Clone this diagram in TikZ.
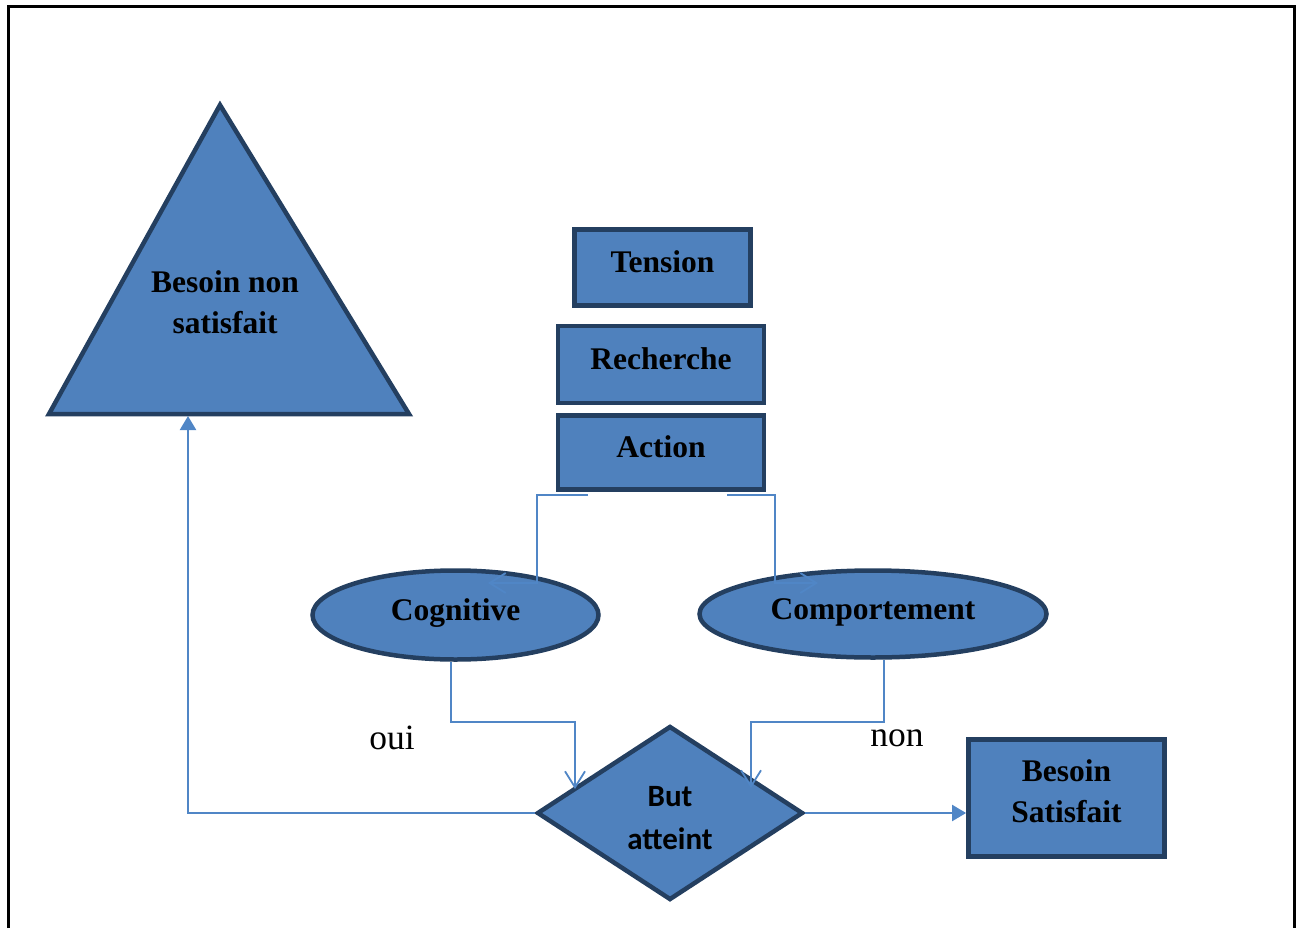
\documentclass[tikz,border=0pt]{standalone}
\usepackage{fontspec}
\setmainfont{Liberation Serif}
\newfontfamily\calib{Carlito}
\usetikzlibrary{shapes.geometric,arrows.meta}
\definecolor{fillb}{HTML}{4F81BD}
\definecolor{edgeb}{HTML}{243F60}
\definecolor{lineb}{HTML}{5086C6}
\begin{document}
\begin{tikzpicture}[x=1pt,y=-1pt,
  shp/.style={draw=edgeb,fill=fillb,line width=4.8pt,inner sep=0pt,line join=miter},
  bold/.style={font=\bfseries\fontsize{31.5}{41}\selectfont,align=center},
  boxs/.style={shp,rectangle,bold,text height=20pt,text depth=10pt},
  ell/.style={shp,ellipse,line width=4.5pt,bold,text height=20pt,text depth=10pt},
  conn/.style={draw=lineb,line width=1.8pt},
  openarr/.style={-{Straight Barb[length=16pt,width=20pt]}},
  fullarr/.style={line width=2.2pt,-{Triangle[length=14pt,width=16pt]}},
  lbl/.style={font=\fontsize{35.5}{40}\selectfont}
]
\useasboundingbox (0,0) rectangle (1297,928);
\draw[line width=3pt] (8.5,928) -- (8.5,6.5) -- (1294.5,6.5) -- (1294.5,928);

% shapes
\coordinate (tA) at (220,105);
\coordinate (tR) at (409,414);
\coordinate (tL) at (49,414);
\filldraw[shp,line width=4.5pt] (tA) -- (tR) -- (tL) -- cycle;
\node[bold] (besoinnon) at (225,302) {Besoin non\\satisfait};

\node[boxs,minimum width=176pt,minimum height=76pt] (tension) at (662.5,267.5) {Tension};
\node[boxs,minimum width=206pt,minimum height=77pt] (recherche) at (661,364.5) {Recherche};
\node[boxs,minimum width=206pt,minimum height=74pt] (action) at (661,452.5) {Action};

\node[ell,minimum width=286pt,minimum height=89pt] (cog) at (455.5,615) {Cognitive};
\node[ell,minimum width=347pt,minimum height=87pt] (comp) at (873,614) {Comportement};

\node[shp,diamond,line width=4.5pt,minimum width=266pt,minimum height=174pt] (but) at (670,813) {};
\node[font=\calib\bfseries\fontsize{31}{43}\selectfont,align=center] (buttxt) at (670,818) {But\\atteint};

\node[shp,rectangle,minimum width=196pt,minimum height=117pt] (bsat) at (1066.5,798) {};
\node[bold] (bsattxt) at (1066.5,791.5) {Besoin\\Satisfait};

\node[lbl] (oui) at (392,738) {oui};
\node[lbl] (non) at (897,738) {non};

% connectors
\coordinate (cogT) at (488,583);
\coordinate (compT) at (818,583);
\coordinate (butL) at (575,789);
\coordinate (butR) at (751,788);
\coordinate (tBase) at (188,416);

\draw[conn,openarr] ([xshift=-73pt,yshift=-3pt]action.south) -| (537,583) -- (cogT);
\draw[conn,openarr] ([xshift=66pt,yshift=-3pt]action.south) -| (775,583) -- (compT);
\draw[conn,openarr] ([xshift=-4.5pt]cog.south) |- (575,722) -- (butL);
\draw[conn,openarr] ([xshift=11pt]comp.south) |- (751,722) -- (butR);
\draw[conn,fullarr] (but.west) -| (tBase);
\draw[conn,fullarr] (but.east) -- (but.east -| bsat.west);
\end{tikzpicture}
\end{document}
